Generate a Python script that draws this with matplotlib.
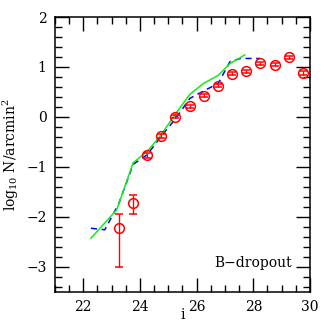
import numpy as np
import matplotlib
matplotlib.use('Agg')
import matplotlib.pyplot as plt
from matplotlib.ticker import MultipleLocator

plt.rcParams['font.family'] = 'DejaVu Serif'
plt.rcParams['mathtext.fontset'] = 'dejavuserif'

# observed counts (red circles)
obs_mag = [23.25, 23.75, 24.25, 24.75, 25.25, 25.75, 26.25, 26.75, 27.25, 27.75, 28.25, 28.75, 29.25, 29.75]
obs_logn = [-2.22, -1.73, -0.77, -0.39, 0.00, 0.21, 0.42, 0.62, 0.86, 0.91, 1.07, 1.04, 1.19, 0.87]
obs_err_lo = [0.78, 0.22, 0.05, 0.04, 0.03, 0.03, 0.03, 0.03, 0.03, 0.03, 0.03, 0.03, 0.03, 0.04]
obs_err_hi = [0.27, 0.17, 0.05, 0.04, 0.03, 0.03, 0.03, 0.03, 0.03, 0.03, 0.03, 0.03, 0.03, 0.04]

# model curves
green_mag = [22.27, 23.18, 23.76, 24.27, 24.71, 25.24, 25.76, 26.24, 26.76, 27.18, 27.7]
green_logn = [-2.43, -1.86, -0.92, -0.68, -0.39, 0.05, 0.45, 0.67, 0.83, 1.07, 1.24]

blue_mag = [22.27, 22.76, 23.25, 23.76, 24.25, 24.8, 25.24, 25.76, 26.25, 26.76, 27.18, 27.55, 28.24]
blue_logn = [-2.23, -2.26, -1.74, -0.95, -0.76, -0.35, -0.05, 0.37, 0.52, 0.67, 1.11, 1.17, 1.17]

fig = plt.figure(figsize=(3.27, 3.27), dpi=100)
ax = fig.add_axes([0.168, 0.108, 0.78, 0.84])

ax.plot(green_mag, green_logn, color='#11ee11', lw=1.1, zorder=3)
ax.plot(blue_mag, blue_logn, color='blue', lw=1.1, ls=(0, (4, 3)), zorder=2)
ax.errorbar(obs_mag, obs_logn, yerr=[obs_err_lo, obs_err_hi], fmt='o', mfc='none',
            mec='red', ecolor='red', color='red', ms=7, mew=1.1, elinewidth=1.0,
            capsize=3, capthick=1.0, zorder=4)

ax.text(29.35, -3.0, 'B\u2212dropout', ha='right', va='baseline', fontsize=10)

ax.set_xlim(21, 30)
ax.set_ylim(-3.5, 2)
ax.xaxis.set_major_locator(MultipleLocator(2))
ax.xaxis.set_minor_locator(MultipleLocator(0.5))
ax.yaxis.set_major_locator(MultipleLocator(1))
ax.yaxis.set_minor_locator(MultipleLocator(0.2))
ax.tick_params(which='both', direction='in', top=True, right=True, labelsize=10, pad=6)
ax.tick_params(which='major', length=10, width=1)
ax.tick_params(which='minor', length=5, width=1)
for s in ax.spines.values():
    s.set_linewidth(1.1)

ax.set_xlabel('i', fontsize=10, labelpad=-4)
ax.set_ylabel(r'log$_{10}$ N/arcmin$^2$', fontsize=10, labelpad=4)

fig.savefig('out.png', dpi=100)
